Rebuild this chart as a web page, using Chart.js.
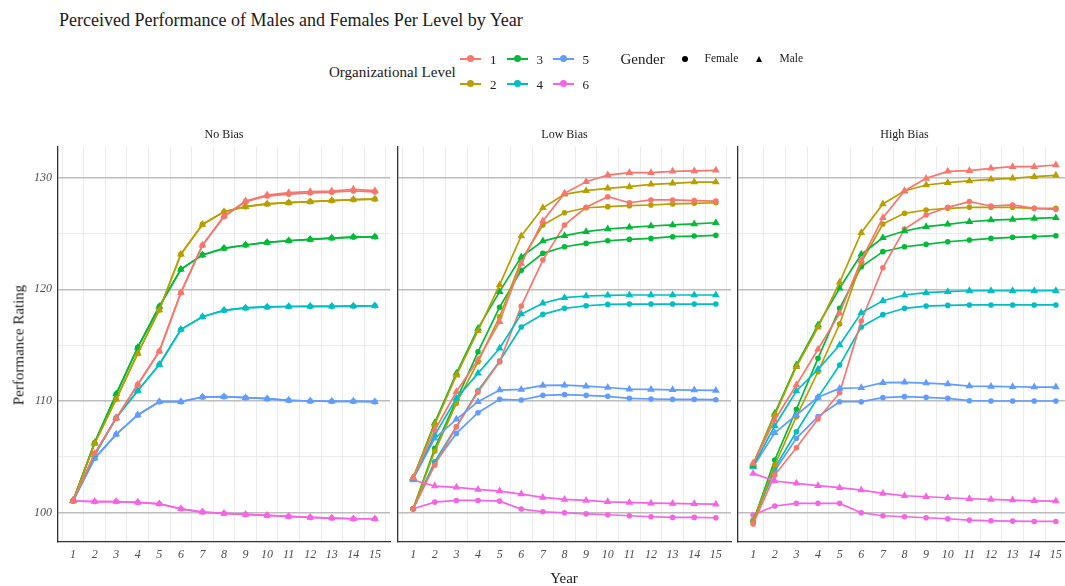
<!DOCTYPE html>
<html>
<head>
<meta charset="utf-8">
<script src="https://cdn.jsdelivr.net/npm/chart.js@4.4.1/dist/chart.umd.min.js"></script>
<style>
  html, body { margin: 0; padding: 0; background: #ffffff; }
  body { width: 1065px; height: 586px; position: relative; overflow: hidden; font-family: "Liberation Serif", "Times New Roman", serif; color: #1a1a1a; }
  canvas { position: absolute; }
  .txt { position: absolute; white-space: nowrap; line-height: 1; }
  .key { position: absolute; height: 20px; width: 21px; }
  .key .ln { position: absolute; left: 0; right: 0; top: 9px; height: 1.6px; }
  .key .pt { position: absolute; left: 7px; top: 6px; width: 7px; height: 7px; border-radius: 50%; }
</style>
</head>
<body>
<script>
// ---- data ----
const years = [1, 2, 3, 4, 5, 6, 7, 8, 9, 10, 11, 12, 13, 14, 15];
const levels = ['1', '2', '3', '4', '5', '6'];
const genders = ['Female', 'Male'];
const panelTitles = ['No Bias', 'Low Bias', 'High Bias'];
const yTicks = [100, 110, 120, 130];

// No Bias
const noBiasFemale1 = [101.07, 105.3, 108.46, 111.48, 114.45, 119.7, 123.94, 126.5, 127.85, 128.35, 128.52, 128.62, 128.7, 128.8, 128.72];
const noBiasMale1 = [101.07, 105.3, 108.46, 111.48, 114.45, 119.7, 123.94, 126.56, 127.9, 128.44, 128.65, 128.74, 128.8, 128.95, 128.83];
const noBiasFemale2 = [101.07, 106.2, 110.17, 114.26, 118.15, 123.14, 125.81, 126.95, 127.4, 127.64, 127.76, 127.85, 127.94, 128.03, 128.08];
const noBiasMale2 = [101.07, 106.2, 110.17, 114.26, 118.15, 123.14, 125.81, 126.95, 127.4, 127.64, 127.76, 127.85, 127.94, 128.03, 128.08];
const noBiasFemale3 = [101.07, 106.27, 110.62, 114.8, 118.46, 121.79, 123.08, 123.67, 123.97, 124.2, 124.35, 124.47, 124.59, 124.68, 124.7];
const noBiasMale3 = [101.07, 106.27, 110.62, 114.8, 118.46, 121.79, 123.08, 123.67, 123.97, 124.2, 124.35, 124.47, 124.59, 124.68, 124.7];
const noBiasFemale4 = [101.07, 105.17, 108.5, 110.92, 113.27, 116.4, 117.55, 118.12, 118.33, 118.42, 118.46, 118.48, 118.48, 118.5, 118.53];
const noBiasMale4 = [101.07, 105.17, 108.5, 110.92, 113.27, 116.4, 117.55, 118.12, 118.33, 118.42, 118.46, 118.48, 118.48, 118.5, 118.53];
const noBiasFemale5 = [101.07, 104.87, 107.02, 108.75, 109.94, 109.94, 110.36, 110.39, 110.3, 110.21, 110.06, 110.0, 109.97, 109.97, 109.94];
const noBiasMale5 = [101.07, 104.87, 107.02, 108.75, 109.94, 109.94, 110.36, 110.39, 110.3, 110.21, 110.06, 110.0, 109.97, 109.97, 109.94];
const noBiasFemale6 = [101.05, 101.0, 101.0, 100.93, 100.8, 100.35, 100.06, 99.94, 99.85, 99.76, 99.67, 99.58, 99.52, 99.46, 99.46];
const noBiasMale6 = [101.05, 101.0, 101.0, 100.93, 100.8, 100.35, 100.06, 99.94, 99.85, 99.76, 99.67, 99.58, 99.52, 99.46, 99.46];

// Low Bias
const lowBiasFemale1 = [100.36, 104.27, 107.7, 110.8, 113.5, 118.5, 122.62, 125.76, 127.34, 128.29, 127.75, 128.0, 128.0, 127.94, 127.9];
const lowBiasMale1 = [103.1, 107.4, 110.83, 113.7, 117.1, 122.3, 126.11, 128.59, 129.63, 130.23, 130.44, 130.44, 130.56, 130.6, 130.65];
const lowBiasFemale2 = [100.36, 105.5, 109.79, 113.5, 117.55, 122.6, 125.76, 126.86, 127.3, 127.4, 127.49, 127.55, 127.64, 127.7, 127.75];
const lowBiasMale2 = [103.15, 107.9, 112.3, 116.3, 120.39, 124.77, 127.3, 128.5, 128.83, 129.04, 129.19, 129.4, 129.49, 129.6, 129.6];
const lowBiasFemale3 = [100.36, 105.76, 110.09, 114.4, 118.4, 121.7, 123.22, 123.81, 124.11, 124.35, 124.47, 124.56, 124.71, 124.77, 124.83];
const lowBiasMale3 = [103.1, 108.06, 112.48, 116.5, 119.79, 122.9, 124.32, 124.8, 125.16, 125.4, 125.55, 125.67, 125.76, 125.85, 125.96];
const lowBiasFemale4 = [100.36, 104.57, 107.7, 110.92, 113.57, 116.63, 117.76, 118.3, 118.53, 118.65, 118.68, 118.68, 118.68, 118.68, 118.68];
const lowBiasMale4 = [103.1, 106.95, 110.24, 112.48, 114.73, 117.78, 118.75, 119.25, 119.4, 119.46, 119.49, 119.49, 119.49, 119.49, 119.49];
const lowBiasFemale5 = [100.36, 104.42, 107.1, 108.95, 110.15, 110.09, 110.51, 110.57, 110.51, 110.42, 110.24, 110.18, 110.15, 110.15, 110.12];
const lowBiasMale5 = [103.0, 106.66, 108.36, 109.94, 110.98, 111.04, 111.4, 111.42, 111.33, 111.21, 111.06, 111.04, 111.0, 110.98, 110.95];
const lowBiasFemale6 = [100.36, 100.95, 101.1, 101.1, 101.04, 100.33, 100.09, 100.0, 99.9, 99.82, 99.73, 99.64, 99.58, 99.58, 99.55];
const lowBiasMale6 = [102.93, 102.39, 102.27, 102.09, 101.94, 101.67, 101.37, 101.19, 101.1, 100.98, 100.92, 100.86, 100.83, 100.8, 100.77];

// High Bias
const highBiasFemale1 = [98.99, 103.37, 105.82, 108.39, 110.74, 117.16, 121.93, 125.4, 126.65, 127.34, 127.85, 127.46, 127.55, 127.25, 127.16];
const highBiasMale1 = [104.42, 108.3, 111.43, 114.63, 117.85, 122.6, 126.41, 128.8, 129.93, 130.56, 130.62, 130.83, 130.98, 130.98, 131.13];
const highBiasFemale2 = [99.25, 104.27, 108.6, 112.62, 116.89, 122.4, 125.85, 126.8, 127.1, 127.25, 127.34, 127.34, 127.34, 127.25, 127.25];
const highBiasMale2 = [104.4, 108.74, 113.07, 116.6, 120.63, 125.07, 127.64, 128.8, 129.34, 129.55, 129.7, 129.85, 129.94, 130.08, 130.2];
const highBiasFemale3 = [99.2, 104.72, 109.26, 113.82, 118.3, 122.02, 123.37, 123.81, 124.03, 124.26, 124.41, 124.56, 124.65, 124.71, 124.8];
const highBiasMale3 = [104.26, 108.9, 113.22, 116.8, 120.1, 123.14, 124.62, 125.22, 125.61, 125.82, 126.05, 126.2, 126.26, 126.35, 126.41];
const highBiasFemale4 = [99.2, 104.0, 107.25, 110.33, 113.22, 116.63, 117.73, 118.3, 118.5, 118.56, 118.6, 118.6, 118.6, 118.6, 118.6];
const highBiasMale4 = [104.17, 107.76, 110.9, 112.84, 115.01, 117.9, 118.98, 119.49, 119.7, 119.79, 119.87, 119.87, 119.87, 119.87, 119.87];
const highBiasFemale5 = [99.35, 103.76, 106.66, 108.6, 109.94, 109.94, 110.3, 110.39, 110.33, 110.24, 110.03, 110.0, 110.0, 110.0, 110.0];
const highBiasMale5 = [104.1, 107.16, 108.75, 110.33, 111.13, 111.19, 111.64, 111.67, 111.61, 111.52, 111.34, 111.31, 111.28, 111.25, 111.25];
const highBiasFemale6 = [99.79, 100.6, 100.84, 100.84, 100.84, 100.0, 99.73, 99.64, 99.55, 99.46, 99.34, 99.28, 99.25, 99.22, 99.22];
const highBiasMale6 = [103.52, 102.84, 102.63, 102.42, 102.24, 102.03, 101.73, 101.52, 101.43, 101.34, 101.25, 101.19, 101.13, 101.07, 101.04];

const noBiasSeries = {
  Female: [noBiasFemale1, noBiasFemale2, noBiasFemale3, noBiasFemale4, noBiasFemale5, noBiasFemale6],
  Male: [noBiasMale1, noBiasMale2, noBiasMale3, noBiasMale4, noBiasMale5, noBiasMale6]
};
const lowBiasSeries = {
  Female: [lowBiasFemale1, lowBiasFemale2, lowBiasFemale3, lowBiasFemale4, lowBiasFemale5, lowBiasFemale6],
  Male: [lowBiasMale1, lowBiasMale2, lowBiasMale3, lowBiasMale4, lowBiasMale5, lowBiasMale6]
};
const highBiasSeries = {
  Female: [highBiasFemale1, highBiasFemale2, highBiasFemale3, highBiasFemale4, highBiasFemale5, highBiasFemale6],
  Male: [highBiasMale1, highBiasMale2, highBiasMale3, highBiasMale4, highBiasMale5, highBiasMale6]
};
const panelSeries = [noBiasSeries, lowBiasSeries, highBiasSeries];

// ---- style ----
const levelColors = ['#F8766D', '#B79F00', '#00BA38', '#00BFC4', '#619CFF', '#F564E3'];
const SERIF = '"Liberation Serif", "Times New Roman", serif';
const TICK_COLOR = '#4d4d4d';
const AXIS_COLOR = '#333333';
const GRID_MAJOR = '#bdbdbd';
const GRID_MINOR = '#ebebeb';
const X_MIN = 0.3, X_MAX = 15.7;
const Y_MIN = 97.38, Y_MAX = 132.74;

// plot rectangles for the three facets
const PANEL_TOP = 147, PANEL_BOTTOM = 542;
const panelBoxes = [
  { left: 58, right: 390, axisW: 58 },
  { left: 398, right: 731, axisW: 20 },
  { left: 738, right: 1071, axisW: 20 }
];
const PAD = 20, XAXIS_H = 30;

function addText(str, x, y, opts) {
  const d = document.createElement('div');
  d.className = 'txt';
  d.textContent = str;
  d.style.fontSize = (opts.size || 12) + 'px';
  if (opts.color) d.style.color = opts.color;
  if (opts.italic) d.style.fontStyle = 'italic';
  d.style.left = x + 'px';
  d.style.top = y + 'px';
  let tx = '0', ty = '-50%';
  if (opts.align === 'center') tx = '-50%';
  if (opts.align === 'right') tx = '-100%';
  d.style.transform = 'translate(' + tx + ',' + ty + ')' + (opts.rotate ? ' rotate(' + opts.rotate + 'deg)' : '');
  document.body.appendChild(d);
  return d;
}

// Chart.js paints the first dataset last, so the male (triangle) series
// go first in the list to sit on top of the female (circle) series.
function buildDatasets(series) {
  const sets = [];
  ['Male', 'Female'].forEach(g => {
    levels.forEach((lv, i) => {
      const vals = series[g][i];
      sets.push({
        label: lv + ' ' + g,
        data: years.map((yr, k) => ({ x: yr, y: vals[k] })),
        borderColor: levelColors[i],
        backgroundColor: levelColors[i],
        borderWidth: 1.7,
        pointStyle: g === 'Male' ? 'triangle' : 'circle',
        pointRadius: g === 'Male' ? 4.5 : 2.8,
        pointBorderWidth: 0,
        tension: 0
      });
    });
  });
  return sets;
}

panelBoxes.forEach((box, p) => {
  const cv = document.createElement('canvas');
  const w = box.axisW + (box.right - box.left) + PAD;
  const h = (PANEL_BOTTOM - PANEL_TOP) + PAD + XAXIS_H;
  cv.width = w; cv.height = h;
  cv.style.width = w + 'px'; cv.style.height = h + 'px';
  cv.style.left = (box.left - box.axisW) + 'px';
  cv.style.top = (PANEL_TOP - PAD) + 'px';
  document.body.appendChild(cv);

  const showY = p === 0;
  new Chart(cv, {
    type: 'line',
    data: { datasets: buildDatasets(panelSeries[p]) },
    options: {
      responsive: false,
      animation: false,
      devicePixelRatio: 1,
      layout: { padding: { top: PAD, right: PAD, bottom: 0, left: 0 } },
      plugins: { legend: { display: false }, tooltip: { enabled: false }, title: { display: false } },
      scales: {
        xg: {
          type: 'linear', position: 'bottom', min: X_MIN, max: X_MAX,
          afterBuildTicks: s => { s.ticks = years.map(v => ({ value: v + 0.5 })); s.ticks.unshift({ value: 0.5 }); },
          ticks: { display: false },
          grid: { color: GRID_MINOR, lineWidth: 1, drawTicks: false },
          border: { display: false },
          afterFit: s => { s.height = 0; }
        },
        x: {
          type: 'linear', position: 'bottom', min: X_MIN, max: X_MAX,
          afterBuildTicks: s => { s.ticks = years.map(v => ({ value: v })); },
          ticks: {
            autoSkip: false, maxRotation: 0, padding: 6, color: TICK_COLOR,
            font: { family: SERIF, size: 12, style: 'italic' },
            callback: v => String(v)
          },
          grid: { display: false, drawTicks: false },
          border: { display: true, color: AXIS_COLOR, width: 1.3 },
          afterFit: s => { s.height = XAXIS_H; }
        },
        y: {
          type: 'linear', min: Y_MIN, max: Y_MAX,
          afterBuildTicks: s => {
            const t = [];
            yTicks.forEach(v => { t.push({ value: v }); if (v + 5 < Y_MAX) t.push({ value: v + 5 }); });
            s.ticks = t.sort((a, b) => a.value - b.value);
          },
          ticks: {
            display: showY, padding: 6, color: TICK_COLOR,
            font: { family: SERIF, size: 12, style: 'italic' },
            callback: v => (yTicks.includes(v) ? String(v) : '')
          },
          grid: {
            drawTicks: false,
            color: c => (c.tick && yTicks.includes(c.tick.value) ? GRID_MAJOR : GRID_MINOR),
            lineWidth: c => (c.tick && yTicks.includes(c.tick.value) ? 1.6 : 1)
          },
          border: { display: true, color: AXIS_COLOR, width: 1.3 },
          afterFit: s => { s.width = box.axisW; }
        }
      }
    }
  });

  addText(panelTitles[p], (box.left + box.right) / 2, 134, { size: 12, align: 'center', color: '#1a1a1a' });
});

// title and axis titles
addText('Perceived Performance of Males and Females Per Level by Year', 59, 20, { size: 18 });
addText('Performance Rating', 19, 345, { size: 15, align: 'center', rotate: -90 });
addText('Year', 564, 578, { size: 15, align: 'center' });

// legend: organizational level
addText('Organizational Level', 329, 72, { size: 15 });
const keyCols = [470.5, 517, 563];
const rowsY = [59.3, 84.3];
levels.forEach((lv, i) => {
  const col = Math.floor(i / 2), row = i % 2;
  const cx = keyCols[col], cy = rowsY[row];
  const k = document.createElement('div');
  k.className = 'key';
  k.style.left = (cx - 10.5) + 'px';
  k.style.top = (cy - 10) + 'px';
  const ln = document.createElement('div'); ln.className = 'ln'; ln.style.background = levelColors[i];
  const pt = document.createElement('div'); pt.className = 'pt'; pt.style.background = levelColors[i];
  k.appendChild(ln); k.appendChild(pt);
  document.body.appendChild(k);
  addText(lv, cx + 19.5, cy, { size: 13 });
});

// legend: gender
addText('Gender', 620.5, 59.3, { size: 15 });
const dot = document.createElement('div');
dot.style.cssText = 'position:absolute;left:682px;top:56.3px;width:6px;height:6px;border-radius:50%;background:#000;';
document.body.appendChild(dot);
const tri = document.createElement('div');
tri.style.cssText = 'position:absolute;left:755.5px;top:55.5px;width:0;height:0;border-left:3.8px solid transparent;border-right:3.8px solid transparent;border-bottom:6.6px solid #000;';
document.body.appendChild(tri);
addText('Female', 704.5, 59.3, { size: 11.5 });
addText('Male', 779.5, 59.3, { size: 11.5 });
</script>
</body>
</html>
